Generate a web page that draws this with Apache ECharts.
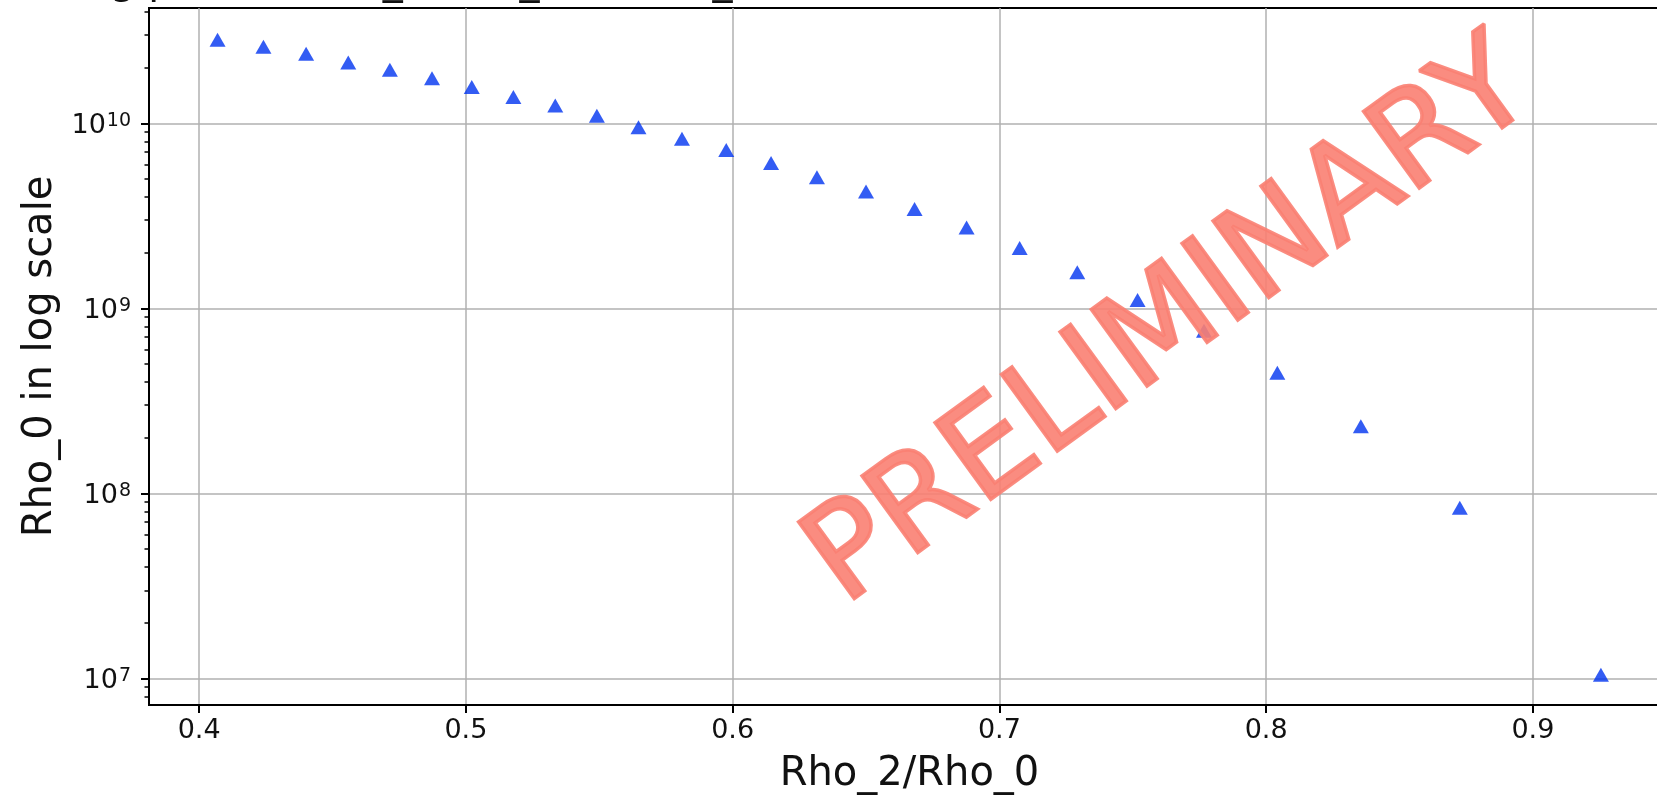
<!DOCTYPE html>
<html>
<head>
<meta charset="utf-8">
<script src="https://cdn.jsdelivr.net/npm/echarts@6/dist/echarts.min.js"></script>
<style>
    html, body { margin: 0; padding: 0; background: #ffffff; }
    #chart { width: 1657px; height: 796px; }
</style>
</head>
<body>
<div id="chart"></div>
<script>
// Rho_2/Rho_0 (x) and Rho_0 (y)
const rhoRatio = [0.4069, 0.4241, 0.4401, 0.4559, 0.4715, 0.4873, 0.5022, 0.5178, 0.5335, 0.5491,
    0.5647, 0.5810, 0.5976, 0.6144, 0.6316, 0.6500, 0.6682, 0.6877, 0.7076, 0.7292,
    0.7518, 0.7767, 0.8042, 0.8355, 0.8726, 0.9255];
const rho0 = [2.83e10, 2.59e10, 2.38e10, 2.13e10, 1.95e10, 1.75e10, 1.57e10, 1.39e10, 1.25e10, 1.10e10,
    9.52e9, 8.26e9, 7.18e9, 6.11e9, 5.11e9, 4.28e9, 3.45e9, 2.74e9, 2.12e9, 1.57e9,
    1.11e9, 7.57e8, 4.49e8, 2.31e8, 8.37e7, 1.05e7];

// ticks
const xTicks = [0.4, 0.5, 0.6, 0.7, 0.8, 0.9];
const yTicks = [1e7, 1e8, 1e9, 1e10];
const yMinorTicks = [8e6, 9e6,
    2e7, 3e7, 4e7, 5e7, 6e7, 7e7, 8e7, 9e7,
    2e8, 3e8, 4e8, 5e8, 6e8, 7e8, 8e8, 9e8,
    2e9, 3e9, 4e9, 5e9, 6e9, 7e9, 8e9, 9e9,
    2e10, 3e10, 4e10];

const FONT = '"DejaVu Sans", Verdana, sans-serif';

const chart = echarts.init(document.getElementById('chart'));

const option = {
    animation: false,
    backgroundColor: '#ffffff',
    // title sits mostly above the page, only its descenders show
    title: {
        text: 'Log plot for Rho_2/Rho_0 vs Rho_0',
        left: 59,
        top: -42,
        textStyle: { fontFamily: FONT, fontSize: 40, fontWeight: 'normal', color: '#111' }
    },
    grid: {
        left: 149,
        top: 8,
        width: 1521,
        height: 697,
        show: true,
        borderColor: '#000',
        borderWidth: 2,
        containLabel: false,
        outerBoundsMode: 'none'
    },
    xAxis: {
        type: 'value',
        min: 0.3812,
        max: 0.9514,
        name: 'Rho_2/Rho_0',
        nameLocation: 'middle',
        nameGap: 50,
        nameMoveOverlap: false,
        nameTextStyle: { fontFamily: FONT, fontSize: 40, color: '#111' },
        axisLine: { show: true, lineStyle: { color: '#000', width: 2 } },
        axisTick: { show: true, customValues: xTicks, length: 8, lineStyle: { color: '#000', width: 2 } },
        axisLabel: {
            customValues: xTicks,
            margin: 12,
            fontFamily: FONT,
            fontSize: 27,
            color: '#111',
            formatter: v => v.toFixed(1)
        },
        splitLine: { show: true, lineStyle: { color: '#b0b0b0', width: 1.5 } }
    },
    yAxis: [
        {
            type: 'log',
            logBase: 10,
            min: 7.2e6,
            max: 4.2e10,
            name: 'Rho_0 in log scale',
            nameLocation: 'middle',
            nameGap: 88,
            nameMoveOverlap: false,
            nameTextStyle: { fontFamily: FONT, fontSize: 40, color: '#111' },
            axisLine: { show: true, lineStyle: { color: '#000', width: 2 } },
            axisTick: { show: true, customValues: yTicks, length: 8, lineStyle: { color: '#000', width: 2 } },
            axisLabel: {
                customValues: yTicks,
                margin: 18,
                formatter: v => '{b|10}{s|' + Math.round(Math.log10(v)) + '}',
                rich: {
                    b: { fontFamily: FONT, fontSize: 27, color: '#111', lineHeight: 32, padding: [8, 0, 0, 0], verticalAlign: 'bottom' },
                    s: { fontFamily: FONT, fontSize: 19, color: '#111', lineHeight: 19, padding: [4, 0, 0, 1], verticalAlign: 'top' }
                }
            },
            splitLine: { show: true, lineStyle: { color: '#b0b0b0', width: 1.5 } }
        },
        {
            // minor ticks only
            type: 'log',
            logBase: 10,
            min: 7.2e6,
            max: 4.2e10,
            position: 'left',
            axisLine: { show: false },
            axisTick: { show: true, customValues: yMinorTicks, length: 4.5, lineStyle: { color: '#000', width: 1.5 } },
            axisLabel: { show: false },
            splitLine: { show: false }
        }
    ],
    graphic: [
        {
            type: 'text',
            x: 1172,
            y: 326,
            rotation: 36 * Math.PI / 180,
            z: 100,
            style: {
                text: 'PRELIMINARY',
                font: '130px ' + FONT,
                fill: 'rgba(250,128,114,0.9)',
                stroke: 'rgba(250,128,114,0.9)',
                lineWidth: 3.5,
                align: 'center',
                verticalAlign: 'middle'
            }
        }
    ],
    series: [
        {
            type: 'scatter',
            xAxisIndex: 0,
            yAxisIndex: 0,
            symbol: 'triangle',
            symbolSize: [16, 14],
            itemStyle: { color: '#0033f0' },
            data: rhoRatio.map((x, i) => [x, rho0[i]])
        }
    ]
};

chart.setOption(option);
</script>
</body>
</html>
